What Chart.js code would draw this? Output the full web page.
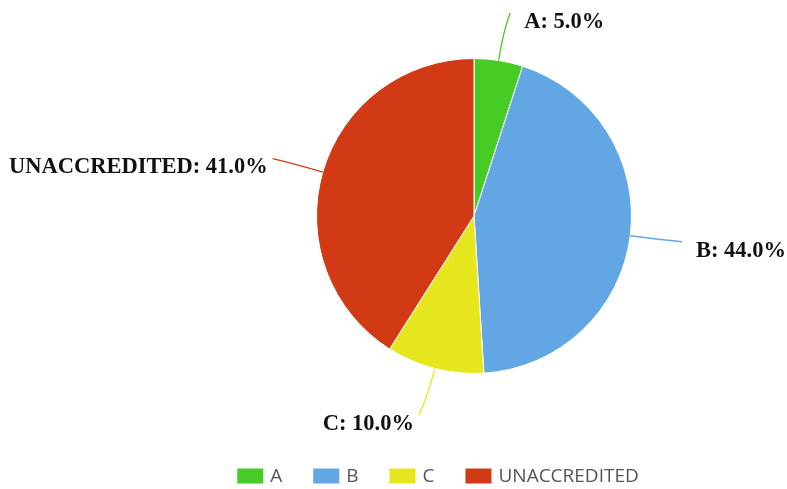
<!DOCTYPE html>
<html>
<head>
<meta charset="utf-8">
<script src="https://cdn.jsdelivr.net/npm/chart.js@4.4.0/dist/chart.umd.min.js"></script>
<style>
  html, body { margin: 0; padding: 0; background: #fff; }
  #wrap { width: 787px; height: 489px; }
</style>
</head>
<body>
<div id="wrap"><canvas id="chart" width="787" height="489"></canvas></div>
<script>
// Data
var categories = ["A", "B", "C", "UNACCREDITED"];
var shares = [5.0, 44.0, 10.0, 41.0];
var sliceColors = ["#47cc26", "#62a6e4", "#e6e61f", "#d13a15"];

// Leader lines + outside labels
var outsideLabels = {
  id: 'outsideLabels',
  afterDatasetsDraw: function(chart) {
    var ctx = chart.ctx;
    var meta = chart.getDatasetMeta(0);
    ctx.save();
    meta.data.forEach(function(arc, i) {
      var p = arc.getProps(['x', 'y', 'startAngle', 'endAngle', 'outerRadius'], true);
      var mid = (p.startAngle + p.endAngle) / 2;
      var cos = Math.cos(mid), sin = Math.sin(mid);
      var side = cos >= 0 ? 1 : -1;
      var r = p.outerRadius;
      var x0 = p.x + r * cos, y0 = p.y + r * sin;
      var cx = p.x + (r + 30) * cos, cy = p.y + (r + 30) * sin;
      var x2 = p.x + (r + 48) * cos + 4 * side, y2 = p.y + (r + 48) * sin;

      ctx.strokeStyle = sliceColors[i];
      ctx.lineWidth = 1.3;
      ctx.beginPath();
      ctx.moveTo(x0, y0);
      ctx.quadraticCurveTo(cx, cy, x2, y2);
      ctx.stroke();

      ctx.fillStyle = '#111';
      ctx.font = 'bold 22.5px "Liberation Serif", "Times New Roman", serif';
      ctx.textBaseline = 'middle';
      ctx.textAlign = side > 0 ? 'left' : 'right';
      var gap = side > 0 ? 14 : 5;
      ctx.fillText(categories[i] + ': ' + shares[i].toFixed(1) + '%', x2 + gap * side, y2 + 9);
    });
    ctx.restore();
  }
};

// Legend drawn under the pie
var bottomLegend = {
  id: 'bottomLegend',
  afterDraw: function(chart) {
    var ctx = chart.ctx;
    ctx.save();
    ctx.font = '19px "Open Sans", sans-serif';
    var boxW = 26, boxH = 15, gap = 7, itemGap = 31;
    var total = 0;
    categories.forEach(function(c, i) {
      total += boxW + gap + ctx.measureText(c).width + (i < categories.length - 1 ? itemGap : 0);
    });
    var x = 438 - total / 2, y = 476;
    categories.forEach(function(c, i) {
      ctx.fillStyle = sliceColors[i];
      ctx.fillRect(x, y - boxH / 2, boxW, boxH);
      x += boxW + gap;
      ctx.fillStyle = '#555';
      ctx.textBaseline = 'middle';
      ctx.textAlign = 'left';
      ctx.fillText(c, x, y + 1);
      x += ctx.measureText(c).width + itemGap;
    });
    ctx.restore();
  }
};

new Chart(document.getElementById('chart'), {
  type: 'pie',
  data: {
    labels: categories,
    datasets: [{
      data: shares,
      backgroundColor: sliceColors,
      borderColor: '#ffffff',
      borderWidth: 1
    }]
  },
  options: {
    responsive: false,
    animation: false,
    layout: { padding: { left: 161, right: 0, top: 58, bottom: 115 } },
    plugins: {
      legend: { display: false },
      tooltip: { enabled: false }
    }
  },
  plugins: [outsideLabels, bottomLegend]
});
</script>
</body>
</html>
